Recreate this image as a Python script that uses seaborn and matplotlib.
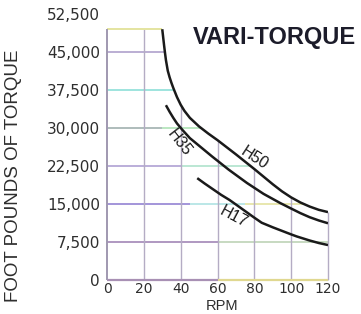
import numpy as np
import pandas as pd
import matplotlib
matplotlib.use('Agg')
import matplotlib.pyplot as plt
import seaborn as sns
from matplotlib.patches import Polygon

# ---- data ----
rpm_h50 = [30, 30.5, 31, 31.5, 32, 33, 34, 35, 36, 38, 40, 42, 45, 50, 55, 60, 65, 70, 75,
           80, 85, 90, 95, 100, 105, 110, 115, 120]
torque_h50 = [49500, 47900, 46300, 44800, 43400, 41300, 40000, 38900, 37900, 36100, 34600,
              33400, 32000, 30300, 28900, 27600, 26200, 24800, 23350, 21900, 20400, 18900,
              17500, 16300, 15300, 14500, 13850, 13400]
rpm_h35 = [32, 34, 36, 38, 41, 45, 50, 57, 66, 76, 85, 94, 100, 105, 110, 115, 120]
torque_h35 = [34500, 33200, 32000, 30900, 29600, 28000, 26500, 24400, 21800, 19150, 17000,
              15200, 14100, 13200, 12400, 11750, 11200]
rpm_h17 = [49, 53, 58, 62, 66.5, 70, 75, 80, 84, 90, 95, 100, 103, 110, 115, 120]
torque_h17 = [20100, 19050, 17800, 16800, 15800, 14900, 13600, 12300, 11300, 10400, 9700,
              9000, 8600, 7800, 7300, 6900]

x_ticks = [0, 20, 40, 60, 80, 100, 120]
y_ticks = [0, 7500, 15000, 22500, 30000, 37500, 45000, 52500]
y_top = 49500

df = pd.concat([
    pd.DataFrame({'rpm': rpm_h50, 'torque': torque_h50, 'model': 'H50'}),
    pd.DataFrame({'rpm': rpm_h35, 'torque': torque_h35, 'model': 'H35'}),
    pd.DataFrame({'rpm': rpm_h17, 'torque': torque_h17, 'model': 'H17'}),
])

sns.set_style('white')
plt.rcParams['font.family'] = ['Liberation Sans', 'DejaVu Sans']

fig = plt.figure(figsize=(3.61, 3.14), dpi=100)
ax = fig.add_axes([107 / 361, 34 / 314, 221 / 361, 266 / 314])
ax.set_xlim(0, 120)
ax.set_ylim(0, 52500)

# grid only inside the region under the H50 curve
clip_pts = [(0, 0), (0, y_top)] + list(zip(rpm_h50, torque_h50)) + [(120, 0)]
clip = Polygon(clip_pts, closed=True, transform=ax.transData, facecolor='none', edgecolor='none')
ax.add_patch(clip)

hgrid = {
    7500: [(0, 60, '#9a7cb0'), (60, 120, '#b8d0b0')],
    15000: [(0, 45, '#8a78d0'), (45, 75, '#a8e0e0'), (75, 120, '#e2e098')],
    22500: [(0, 40, '#a898d0'), (40, 120, '#a8e0c8')],
    30000: [(0, 30, '#98aaa8'), (30, 120, '#a8e0b0')],
    37500: [(0, 120, '#84dcd4')],
    45000: [(0, 120, '#a898c8')],
}
for y, segs in hgrid.items():
    for x0, x1, c in segs:
        ln = ax.hlines(y, x0, x1, colors=c, lw=1.1, zorder=1)
        ln.set_clip_path(clip)
for x in x_ticks[1:-1]:
    ln = ax.vlines(x, 0, y_top, colors='#b4acc4', lw=1.0, zorder=1)
    ln.set_clip_path(clip)

# borders
ax.hlines(y_top, 0, rpm_h50[0], colors='#e4e4a0', lw=1.4, zorder=2)
ax.vlines(120, 0, torque_h50[-1], colors='#b4acc4', lw=1.0, zorder=2, clip_on=False)
ax.hlines(0, 0, 60, colors='#a890b4', lw=1.6, zorder=2, clip_on=False)
ax.hlines(0, 60, 120, colors='#e0d890', lw=1.6, zorder=2, clip_on=False)
ax.vlines(0, 0, y_top, colors='#a098b0', lw=1.4, zorder=2, clip_on=False)
for s in ax.spines.values():
    s.set_visible(False)

for model in ['H50', 'H35', 'H17']:
    sns.lineplot(data=df[df['model'] == model], x='rpm', y='torque', color='#1a1a1a',
                 lw=1.8, estimator=None, sort=False, ax=ax, zorder=3,
                 solid_joinstyle='round', solid_capstyle='butt')

ax.text(80, 24000, 'H50', rotation=-33, fontsize=11.5, color='#1a1a1a', ha='center', va='center')
ax.text(39.5, 27000, 'H35', rotation=-52, fontsize=11.5, color='#1a1a1a', ha='center', va='center')
ax.text(69, 12400, 'H17', rotation=-28, fontsize=11.5, color='#1a1a1a', ha='center', va='center')

ax.text(46.5, 47800, 'VARI-TORQUE', fontsize=17, fontweight='bold', color='#1c1c2a',
        ha='left', va='center', clip_on=False)

ax.set_xticks(x_ticks)
ax.set_yticks(y_ticks)
ax.set_xticklabels([str(v) for v in x_ticks], family='DejaVu Sans', fontsize=10, color='#2e2e2e')
ax.set_yticklabels(['{:,}'.format(v) for v in y_ticks], family='DejaVu Sans', fontsize=11, color='#2e2e2e')
ax.tick_params(axis='y', length=3, width=1.0, color='#a098b0', pad=2)
ax.tick_params(axis='x', length=0, pad=1.5)
ax.set_xlabel('')
ax.set_ylabel('')
ax.grid(False)

fig.text(222 / 361, 1 - 306 / 314, 'RPM', fontsize=10.5, color='#2e2e2e', ha='center', va='center')
fig.text(14 / 361, 1 - 176 / 314, 'FOOT POUNDS OF TORQUE', rotation=90, fontsize=13.5,
         color='#2e2e2e', ha='center', va='center')

fig.savefig('out.png', dpi=100)
plt.close()
